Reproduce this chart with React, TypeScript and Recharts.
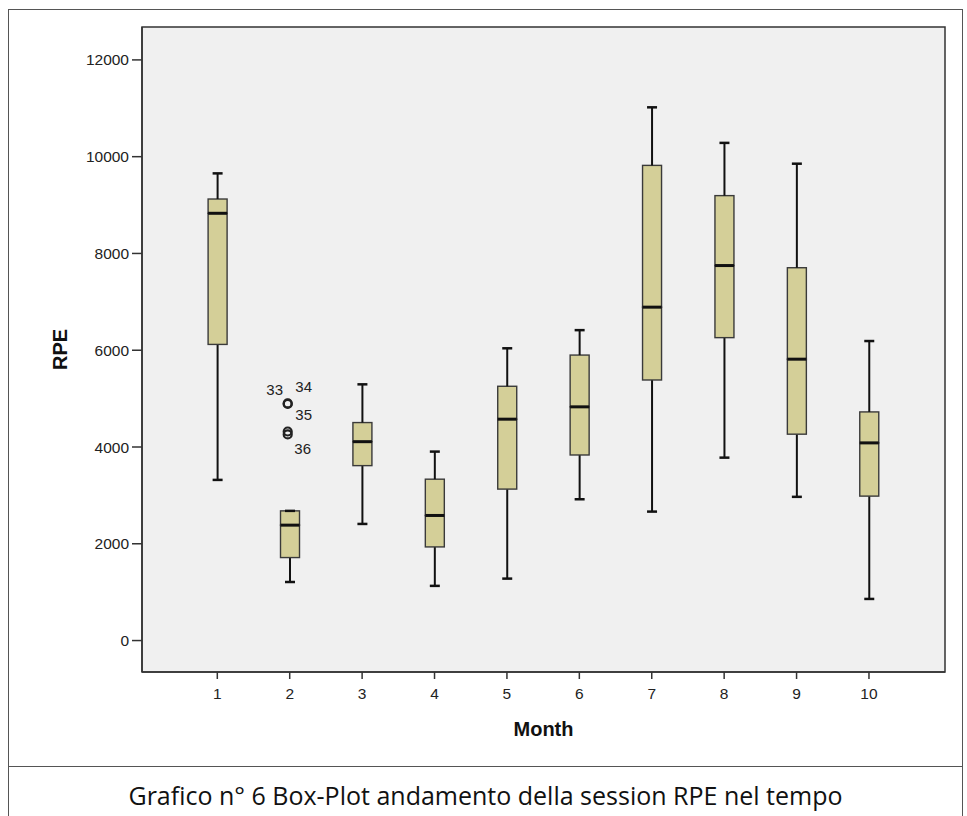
import { Bar, CartesianGrid, ComposedChart, ReferenceArea, Scatter, XAxis, YAxis } from 'recharts'

const months = [1, 2, 3, 4, 5, 6, 7, 8, 9, 10]
const whiskerLow = [3320, 1210, 2410, 1130, 1280, 2920, 2665, 3780, 2970, 860]
const q1 = [6120, 1715, 3615, 1935, 3130, 3835, 5385, 6260, 4265, 2985]
const medians = [8830, 2385, 4110, 2585, 4575, 4830, 6890, 7750, 5815, 4085]
const q3 = [9125, 2680, 4505, 3335, 5255, 5900, 9820, 9195, 7705, 4725]
const whiskerHigh = [9655, 2680, 5295, 3905, 6040, 6415, 11020, 10285, 9855, 6190]

const outlierMonths = [2, 2, 2, 2]
const outlierValues = [4890, 4900, 4320, 4260]
const outlierIds = ['33', '34', '35', '36']

const yTicks = [0, 2000, 4000, 6000, 8000, 10000, 12000]
const xDomain: [number, number] = [-0.04, 11.05]
const yDomain: [number, number] = [-650, 12680]

const boxData = months.map((m, i) => ({
  month: m,
  base: whiskerLow[i],
  lowWhisker: q1[i] - whiskerLow[i],
  lowBox: medians[i] - q1[i],
  highBox: q3[i] - medians[i],
  highWhisker: whiskerHigh[i] - q3[i],
}))

const outlierData = outlierValues.map((v, i) => ({
  month: outlierMonths[i],
  value: v,
  id: outlierIds[i],
}))

// where SPSS put each case number relative to its circle
const labelOffsets: Record<string, [number, number]> = {
  '33': [-13, -14],
  '34': [16, -17],
  '35': [16, -17],
  '36': [15, 14],
}

const BOX_FILL = '#d4cf98'
const BOX_STROKE = '#3a3a3a'
const INK = '#111'
const AXIS = '#333'
const FONT = '"Liberation Sans", Arial, sans-serif'

const LowWhisker = (props: any) => {
  const { x, y, width, height } = props
  const cx = x + width / 2
  return (
    <g>
      <line x1={cx} x2={cx} y1={y} y2={y + height} stroke={INK} strokeWidth={2} />
      <line x1={cx - 5} x2={cx + 5} y1={y + height} y2={y + height} stroke={INK} strokeWidth={2.5} />
    </g>
  )
}

const HighWhisker = (props: any) => {
  const { x, y, width, height } = props
  const cx = x + width / 2
  return (
    <g>
      <line x1={cx} x2={cx} y1={y} y2={y + height} stroke={INK} strokeWidth={2} />
      <line x1={cx - 5} x2={cx + 5} y1={y} y2={y} stroke={INK} strokeWidth={2.5} />
    </g>
  )
}

const LowBox = (props: any) => {
  const { x, y, width, height } = props
  return <rect x={x} y={y} width={width} height={height} fill={BOX_FILL} stroke={BOX_STROKE} strokeWidth={1.4} />
}

const HighBox = (props: any) => {
  const { x, y, width, height } = props
  return (
    <g>
      <rect x={x} y={y} width={width} height={height} fill={BOX_FILL} stroke={BOX_STROKE} strokeWidth={1.4} />
      <line x1={x} x2={x + width} y1={y + height} y2={y + height} stroke={INK} strokeWidth={3} />
    </g>
  )
}

const Outlier = (props: any) => {
  const { cx, cy, payload } = props
  const [dx, dy] = labelOffsets[payload.id] || [14, 0]
  return (
    <g>
      <circle cx={cx - 2} cy={cy} r={4} fill="none" stroke="#222" strokeWidth={2.2} />
      <text
        x={cx - 2 + dx}
        y={cy + dy}
        textAnchor="middle"
        dominantBaseline="central"
        fontSize={15}
        fontFamily={FONT}
        fill="#222"
      >
        {payload.id}
      </text>
    </g>
  )
}

const RpeLabel = (props: any) => {
  const { viewBox } = props
  const x = viewBox.x + 51
  const y = viewBox.y + viewBox.height / 2
  return (
    <text
      x={x}
      y={y}
      transform={`rotate(-90, ${x}, ${y})`}
      textAnchor="middle"
      dominantBaseline="central"
      fontSize={20}
      fontWeight="bold"
      fontFamily={FONT}
      fill="#111"
    >
      RPE
    </text>
  )
}

const MonthLabel = (props: any) => {
  const { viewBox } = props
  return (
    <text
      x={viewBox.x + viewBox.width / 2}
      y={viewBox.y + 57}
      textAnchor="middle"
      dominantBaseline="central"
      fontSize={20}
      fontWeight="bold"
      fontFamily={FONT}
      fill="#111"
    >
      Month
    </text>
  )
}

const tickStyle = { fill: '#222', fontSize: 15.5, fontFamily: FONT }

export default function App() {
  return (
    <div
      style={{
        position: 'absolute',
        left: 8,
        top: 9,
        width: 955,
        height: 807,
        boxSizing: 'border-box',
        borderTop: '1px solid #555',
        borderLeft: '1px solid #555',
        borderRight: '1px solid #555',
        background: '#fff',
      }}
    >
      <ComposedChart
        width={953}
        height={756}
        data={boxData}
        margin={{ top: 17, right: 17, bottom: 14, left: 0 }}
      >
        <CartesianGrid horizontal={false} vertical={false} fill="#f0f0f0" stroke="none" />
        <XAxis
          type="number"
          dataKey="month"
          domain={xDomain}
          ticks={months}
          allowDataOverflow
          height={80}
          tickSize={7}
          tickMargin={9}
          tick={tickStyle}
          axisLine={{ stroke: AXIS, strokeWidth: 1.5 }}
          tickLine={{ stroke: AXIS, strokeWidth: 1.5 }}
          label={<MonthLabel />}
        />
        <YAxis
          type="number"
          domain={yDomain}
          ticks={yTicks}
          allowDataOverflow
          width={133}
          tickSize={10}
          tickMargin={3}
          tick={tickStyle}
          axisLine={{ stroke: AXIS, strokeWidth: 1.5 }}
          tickLine={{ stroke: AXIS, strokeWidth: 1.5 }}
          label={<RpeLabel />}
        />
        <Bar dataKey="base" stackId="box" barSize={19} fill="none" isAnimationActive={false} />
        <Bar dataKey="lowWhisker" stackId="box" barSize={19} shape={<LowWhisker />} isAnimationActive={false} />
        <Bar dataKey="lowBox" stackId="box" barSize={19} shape={<LowBox />} isAnimationActive={false} />
        <Bar dataKey="highBox" stackId="box" barSize={19} shape={<HighBox />} isAnimationActive={false} />
        <Bar dataKey="highWhisker" stackId="box" barSize={19} shape={<HighWhisker />} isAnimationActive={false} />
        <Scatter data={outlierData} dataKey="value" shape={<Outlier />} isAnimationActive={false} />
        <ReferenceArea
          x1={xDomain[0]}
          x2={xDomain[1]}
          y1={yDomain[0]}
          y2={yDomain[1]}
          fill="none"
          fillOpacity={0}
          stroke={AXIS}
          strokeWidth={1.5}
          ifOverflow="visible"
        />
      </ComposedChart>
      <div style={{ borderTop: '1px solid #555', height: 50, position: 'relative' }}>
        <div
          style={{
            position: 'absolute',
            left: 0,
            right: 0,
            top: 11,
            textAlign: 'center',
            fontFamily: '"Open Sans", sans-serif',
            fontSize: 25,
            color: '#111',
            whiteSpace: 'nowrap',
          }}
        >
          Grafico n° 6 Box-Plot andamento della session RPE nel tempo
        </div>
      </div>
    </div>
  )
}
